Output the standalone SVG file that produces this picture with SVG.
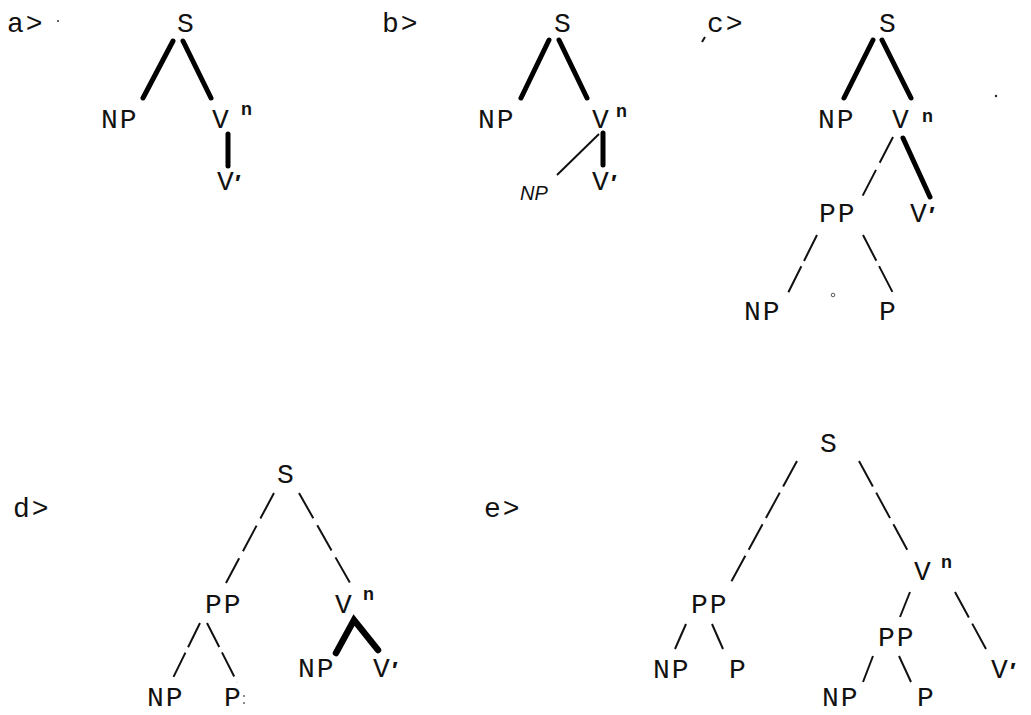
<svg xmlns="http://www.w3.org/2000/svg" width="1031" height="715" viewBox="0 0 1031 715">
<style>
.t{font-family:"Liberation Mono","Courier New",monospace;font-size:28px;fill:#111;letter-spacing:2px}
.h{font-family:"Liberation Sans",Arial,sans-serif;font-size:18px;font-weight:bold;fill:#111}
.pr{font-family:"Liberation Sans",Arial,sans-serif;font-size:24px;font-weight:bold;fill:#111}
.hw{font-family:"Liberation Sans",Arial,sans-serif;font-size:20px;font-style:italic;fill:#111}
.k{stroke:#000;stroke-width:5;stroke-linecap:round;fill:none}
.kk{stroke:#000;stroke-width:6.5;stroke-linecap:round;fill:none}
.s{stroke:#111;stroke-width:2;fill:none}
.d{stroke:#111;stroke-width:2;fill:none;stroke-dasharray:29 8}
</style>
<rect width="1031" height="715" fill="#fff"/>
<g id="labels">
<text class="t" x="7" y="32">a&gt;</text>
<circle cx="58" cy="21" r="1" fill="#333"/>
<text class="t" x="382" y="32">b&gt;</text>
<text class="t" x="707" y="32">c&gt;</text>
<path d="M705 37 L702 42" class="s"/>
<text class="t" x="13" y="517">d&gt;</text>
<text class="t" x="484" y="517">e&gt;</text>
<circle cx="996" cy="96" r="1.2" fill="#222"/>
<circle cx="833" cy="295" r="1.8" fill="none" stroke="#333" stroke-width="0.8"/>
</g>
<g id="connectors">
<!-- a -->
<line class="k" x1="173" y1="41" x2="143" y2="98"/>
<line class="k" x1="183" y1="41" x2="211" y2="98"/>
<line class="k" x1="228" y1="134" x2="228" y2="166"/>
<!-- b -->
<line class="k" x1="549" y1="40" x2="521" y2="98"/>
<line class="k" x1="559" y1="40" x2="587" y2="98"/>
<line class="s" x1="599" y1="134" x2="557" y2="175" stroke-width="1.5"/>
<line class="k" x1="603" y1="133" x2="603" y2="165"/>
<!-- c -->
<line class="k" x1="873" y1="40" x2="844" y2="98"/>
<line class="k" x1="882" y1="40" x2="911" y2="98"/>
<line class="d" x1="893" y1="137" x2="862" y2="197"/>
<line class="k" x1="903" y1="138" x2="930" y2="197"/>
<line class="d" x1="817" y1="235" x2="788" y2="293" style="stroke-dasharray:29 6"/>
<line class="d" x1="863" y1="235" x2="893" y2="293" style="stroke-dasharray:29 6"/>
<!-- d -->
<line class="d" x1="274" y1="493" x2="226" y2="583"/>
<line class="d" x1="299" y1="493" x2="350" y2="583"/>
<line class="d" x1="200" y1="623" x2="171" y2="682" style="stroke-dasharray:27 6"/>
<line class="d" x1="207" y1="623" x2="237" y2="682" style="stroke-dasharray:27 6"/>
<polyline class="kk" points="336,653 354,620 378,650"/>
<!-- e -->
<line class="d" x1="797" y1="461" x2="730" y2="584" style="stroke-dasharray:29 7"/>
<line class="d" x1="859" y1="461" x2="909" y2="553" style="stroke-dasharray:29 7"/>
<line class="s" x1="686" y1="624" x2="675" y2="649"/>
<line class="s" x1="712" y1="624" x2="723" y2="649"/>
<line class="s" x1="910" y1="592" x2="900" y2="617"/>
<line class="d" x1="955" y1="592" x2="986" y2="649" style="stroke-dasharray:29 7"/>
<line class="s" x1="873" y1="656" x2="863" y2="682"/>
<line class="s" x1="899" y1="656" x2="911" y2="682"/>
</g>
<g id="tree-a">
<text class="t" x="177" y="32">S</text>
<text class="t" x="101" y="128">NP</text>
<text class="t" x="212" y="128">V</text><text class="h" x="241" y="115">n</text>
<text class="t" x="217" y="190">V</text><text class="pr" x="235" y="192">′</text>
</g>
<g id="tree-b">
<text class="t" x="554" y="32">S</text>
<text class="t" x="478" y="128">NP</text>
<text class="t" x="592" y="128">V</text><text class="h" x="616" y="117">n</text>
<text class="hw" x="520" y="200">NP</text>
<text class="t" x="592" y="190">V</text><text class="pr" x="611" y="192">′</text>
</g>
<g id="tree-c">
<text class="t" x="879" y="32">S</text>
<text class="t" x="818" y="128">NP</text>
<text class="t" x="892" y="128">V</text><text class="h" x="922" y="122">n</text>
<text class="t" x="819" y="222">PP</text>
<text class="t" x="910" y="222">V</text><text class="pr" x="929" y="224">′</text>
<text class="t" x="744" y="320">NP</text>
<text class="t" x="879" y="320">P</text>
</g>
<g id="tree-d">
<text class="t" x="277" y="483">S</text>
<text class="t" x="205" y="613">PP</text>
<text class="t" x="335" y="613">V</text><text class="h" x="363" y="600">n</text>
<text class="t" x="298" y="677">NP</text>
<text class="t" x="373" y="677">V</text><text class="pr" x="392" y="679">′</text>
<text class="t" x="147" y="706">NP</text>
<circle cx="152" cy="690" r="1.3" fill="#111"/>
<text class="t" x="224" y="706">P</text>
<circle cx="244" cy="696" r="0.9" fill="#555"/><circle cx="244" cy="703" r="0.9" fill="#555"/>
</g>
<g id="tree-e">
<text class="t" x="820" y="452">S</text>
<text class="t" x="914" y="580">V</text><text class="h" x="941" y="568">n</text>
<text class="t" x="691" y="613">PP</text>
<text class="t" x="653" y="678">NP</text>
<text class="t" x="729" y="678">P</text>
<text class="t" x="878" y="646">PP</text>
<text class="t" x="991" y="678">V</text><text class="pr" x="1010" y="680">′</text>
<text class="t" x="822" y="706">NP</text>
<text class="t" x="917" y="706">P</text>
</g>
</svg>
